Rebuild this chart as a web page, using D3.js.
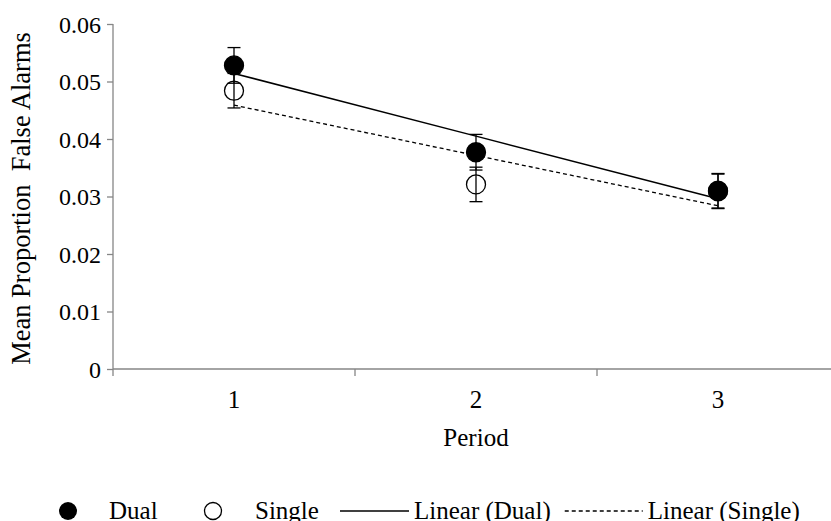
<!DOCTYPE html>
<html>
<head>
<meta charset="utf-8">
<script src="https://cdn.jsdelivr.net/npm/d3@7"></script>
</head>
<body style="margin:0; background:#fff">
<svg id="chart" width="831" height="521" style="display:block"></svg>
<script>
const periods = ["1", "2", "3"];
const dual = [0.0528, 0.0377, 0.0310];
const dual_err = [0.0031, 0.0031, 0.0030];
const single = [0.0484, 0.0321, 0.0309];
const single_err = [0.0030, 0.0030, 0.0030];
const y_ticks = [0, 0.01, 0.02, 0.03, 0.04, 0.05, 0.06];

const svg = d3.select("#chart");
const plot_left = 113, plot_right = 839, plot_top = 24, plot_bottom = 369;
const FONT = "'Liberation Serif'";

const x = d3.scaleBand().domain(periods).range([plot_left, plot_right]);
const y = d3.scaleLinear().domain([0, 0.06]).range([plot_bottom, plot_top]);
const cx = d => x(d) + x.bandwidth() / 2;

// least squares line, like the spreadsheet trendline
function trend(vals) {
    const n = vals.length;
    const xs = d3.range(1, n + 1);
    const mx = d3.mean(xs), my = d3.mean(vals);
    const slope = d3.sum(xs, (v, i) => (v - mx) * (vals[i] - my)) / d3.sum(xs, v => (v - mx) * (v - mx));
    return xs.map(v => my + slope * (v - mx));
}

// axes
const yAxis = d3.axisLeft(y).tickValues(y_ticks).tickSize(6).tickPadding(6)
    .tickFormat(d => d === 0 ? "0" : d3.format(".2f")(d));
const gy = svg.append("g").attr("transform", `translate(${plot_left},0)`).call(yAxis);
gy.attr("font-family", null).attr("font-size", null);
gy.selectAll("path,line").attr("stroke", "#868686").attr("stroke-width", 1.3);
gy.select(".domain").attr("d", `M0,${plot_top}V${plot_bottom}`);
gy.selectAll("text").attr("dy", "0.34em").style("font-size", "24px");

const gx = svg.append("g").attr("transform", `translate(0,${plot_bottom})`);
gx.append("line").attr("x1", plot_left).attr("x2", plot_right).attr("stroke", "#868686").attr("stroke-width", 1.3);
gx.selectAll(".tk").data(periods.concat(["end"])).join("line")
    .attr("x1", (d, i) => plot_left + i * x.bandwidth())
    .attr("x2", (d, i) => plot_left + i * x.bandwidth())
    .attr("y1", 0).attr("y2", 7)
    .attr("stroke", "#868686").attr("stroke-width", 1.3);
gx.selectAll(".lbl").data(periods).join("text")
    .attr("x", d => cx(d)).attr("y", 39)
    .attr("text-anchor", "middle").style("font-size", "25px").text(d => d);

svg.append("text").attr("x", cx("2")).attr("y", 446)
    .attr("text-anchor", "middle").style("font-size", "25px").text("Period");

svg.append("text")
    .attr("transform", `translate(30,${(plot_top + plot_bottom) / 2 + 2}) rotate(-90)`)
    .attr("text-anchor", "middle").style("font-size", "26.5px")
    .style("white-space", "pre")
    .text("Mean Proportion  False Alarms");

// error bars + markers
function drawSeries(vals, errs, fill) {
    const g = svg.append("g");
    vals.forEach((v, i) => {
        const px = cx(periods[i]);
        g.append("line").attr("x1", px).attr("x2", px)
            .attr("y1", y(v + errs[i])).attr("y2", y(v - errs[i]))
            .attr("stroke", "#000").attr("stroke-width", 1.3);
        [v + errs[i], v - errs[i]].forEach(e => {
            g.append("line").attr("x1", px - 6.5).attr("x2", px + 6.5)
                .attr("y1", y(e)).attr("y2", y(e))
                .attr("stroke", "#000").attr("stroke-width", 1.3);
        });
    });
    g.selectAll("circle").data(vals).join("circle")
        .attr("cx", (d, i) => cx(periods[i])).attr("cy", d => y(d))
        .attr("r", 9.5).attr("fill", fill).attr("stroke", "#000").attr("stroke-width", 1.3);
}
drawSeries(single, single_err, "none");
drawSeries(dual, dual_err, "#000");

const line = d3.line().x((d, i) => cx(periods[i])).y(d => y(d));
svg.append("path").attr("d", line(trend(dual)))
    .attr("fill", "none").attr("stroke", "#000").attr("stroke-width", 1.5);
svg.append("path").attr("d", line(trend(single)))
    .attr("fill", "none").attr("stroke", "#000").attr("stroke-width", 1.3)
    .attr("stroke-dasharray", "4,3");

// legend
const lg = svg.append("g");
const ly = 511;
lg.append("circle").attr("cx", 68).attr("cy", ly).attr("r", 9).attr("fill", "#000");
lg.append("text").attr("x", 109).attr("y", ly + 8).text("Dual");
lg.append("circle").attr("cx", 213).attr("cy", ly).attr("r", 8.5).attr("fill", "none")
    .attr("stroke", "#000").attr("stroke-width", 1.3);
lg.append("text").attr("x", 255).attr("y", ly + 8).text("Single");
lg.append("line").attr("x1", 340).attr("x2", 409).attr("y1", ly).attr("y2", ly)
    .attr("stroke", "#000").attr("stroke-width", 1.5);
const t1 = lg.append("text").attr("x", 414).attr("y", ly + 8).text("Linear (Dual)");
lg.selectAll("text").style("font-size", "25px");
svg.selectAll("text").style("font-family", FONT).style("fill", "#000");
const dash_x = 414 + t1.node().getComputedTextLength() + 14;
lg.append("line").attr("x1", dash_x).attr("x2", dash_x + 78).attr("y1", ly).attr("y2", ly)
    .attr("stroke", "#000").attr("stroke-width", 1.3).attr("stroke-dasharray", "4,3");
lg.append("text").attr("x", dash_x + 83).attr("y", ly + 8).text("Linear (Single)")
    .style("font-size", "25px").style("font-family", FONT).style("fill", "#000");
</script>
</body>
</html>
